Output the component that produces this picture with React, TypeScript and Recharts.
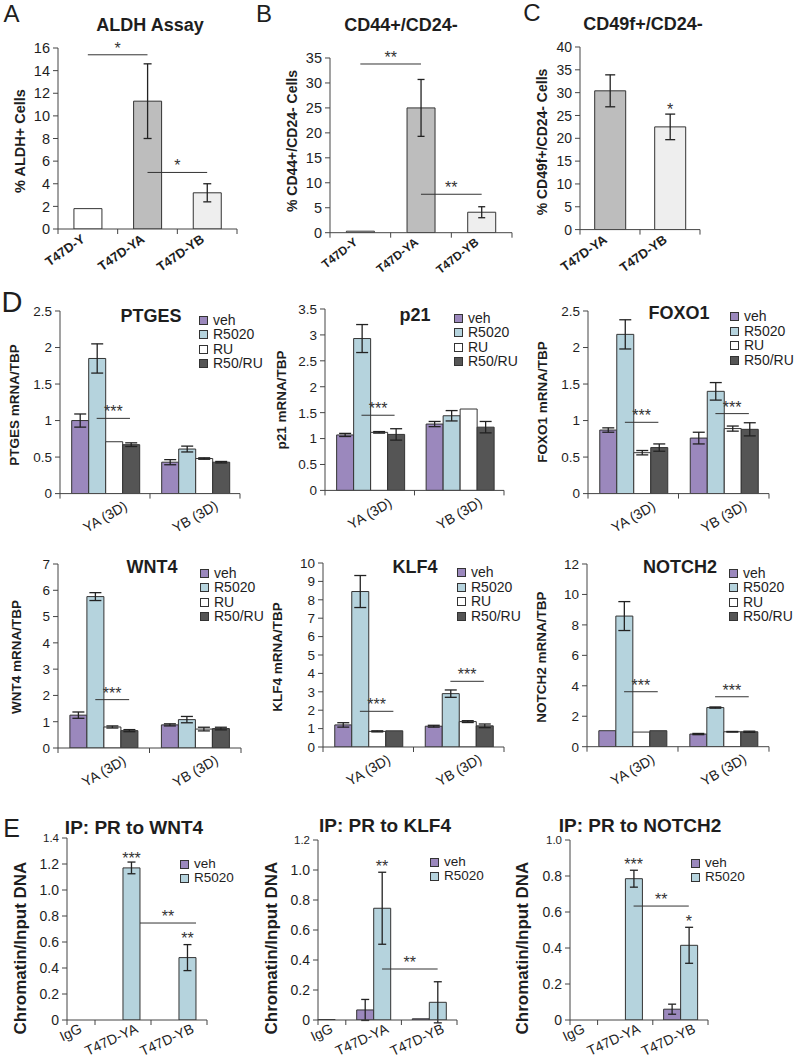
import React from "react";
import {
  BarChart,
  Bar,
  XAxis,
  YAxis,
  ErrorBar,
  Cell,
  ReferenceDot,
} from "recharts";

const FONT = '"Liberation Sans", Arial, Helvetica, sans-serif';
const INK = "#1e1e1e";
const AXIS = "#444444";
const EDGE = "#333333";

// ---- A-C: stem-cell markers by cell line
const lineCats = ["T47D-Y", "T47D-YA", "T47D-YB"];
const lineFills = ["#ffffff", "#bdbdbd", "#eeeeee"];
const aldhMean = [1.8, 11.3, 3.2];
const aldhErr = [null, 3.3, 0.8];
const cd44Mean = [0.3, 25, 4.1];
const cd44Err = [null, 5.7, 1.1];
const cd49Cats = ["T47D-YA", "T47D-YB"];
const cd49Fills = ["#bdbdbd", "#eeeeee"];
const cd49Mean = [30.4, 22.5];
const cd49Err = [3.5, 2.8];

// ---- D: mRNA / TBP, rows = YA (3D), YB (3D); cols = veh, R5020, RU, R50/RU
const groups = ["YA (3D)", "YB (3D)"];
const treatments = ["veh", "R5020", "RU", "R50/RU"];
const treatColors = ["#9b88bd", "#b5d3dd", "#ffffff", "#555555"];
const ptgesMean = [[1.0, 1.85, 0.71, 0.67], [0.43, 0.61, 0.48, 0.43]];
const ptgesErr = [[0.09, 0.2, null, 0.025], [0.035, 0.04, 0.01, 0.01]];
const p21Mean = [[1.07, 2.93, 1.12, 1.08], [1.28, 1.44, 1.57, 1.22]];
const p21Err = [[0.03, 0.27, 0.015, 0.11], [0.05, 0.1, null, 0.11]];
const foxo1Mean = [[0.87, 2.18, 0.56, 0.63], [0.76, 1.4, 0.89, 0.88]];
const foxo1Err = [[0.03, 0.2, 0.03, 0.05], [0.08, 0.12, 0.035, 0.09]];
const wnt4Mean = [[1.25, 5.76, 0.8, 0.66], [0.88, 1.08, 0.72, 0.74]];
const wnt4Err = [[0.12, 0.15, 0.04, 0.04], [0.04, 0.12, 0.07, 0.05]];
const klf4Mean = [[1.2, 8.45, 0.85, 0.88], [1.13, 2.9, 1.38, 1.15]];
const klf4Err = [[0.12, 0.87, 0.03, null], [0.05, 0.2, 0.05, 0.1]];
const notch2Mean = [[1.05, 8.58, 0.96, 1.05], [0.83, 2.57, 0.98, 0.98]];
const notch2Err = [[null, 0.95, null, null], [0.04, 0.04, 0.02, 0.04]];

// ---- E: ChIP, rows = IgG, T47D-YA, T47D-YB; cols = veh, R5020
const chipCats = ["IgG", "T47D-YA", "T47D-YB"];
const chipTreat = ["veh", "R5020"];
const chipColors = ["#9b88bd", "#b5d3dd"];
const wnt4ChipMean = [[0, 0], [0, 1.17], [0, 0.48]];
const wnt4ChipErr = [[null, null], [null, 0.045], [null, 0.1]];
const klf4ChipMean = [[0, 0.003], [0.067, 0.745], [0.008, 0.118]];
const klf4ChipErr = [[null, null], [0.07, 0.24], [null, 0.137]];
const notch2ChipMean = [[0, 0], [0, 0.785], [0.06, 0.415]];
const notch2ChipErr = [[null, null], [null, 0.047], [0.028, 0.1]];

const step = (max: number, s: number) => {
  const out: number[] = [];
  for (let i = 0; i <= Math.round(max / s); i++) out.push(+(i * s).toFixed(2));
  return out;
};

const oneDec = (v: number) => (v === 0 ? "0" : v.toFixed(1));

// annotation anchors are [category index, bar index within the category]
type Annot = {
  kind: "line" | "star";
  a: [number, number];
  b?: [number, number];
  y: number;
  text: string;
};

type XL = { fs: number; bold: boolean; angle: number; anchor: string; dx: number; dy: number };

const CatTick = ({ x, payload, index, axisY, bandW, plotLeft, xl }: any) => {
  const tx = x + xl.dx;
  const ty = axisY + xl.dy;
  return (
    <g>
      {index === 0 && (
        <line x1={plotLeft} x2={plotLeft} y1={axisY} y2={axisY + 5} stroke={AXIS} />
      )}
      <line x1={x + bandW / 2} x2={x + bandW / 2} y1={axisY} y2={axisY + 5} stroke={AXIS} />
      <text
        transform={`translate(${tx},${ty}) rotate(${xl.angle})`}
        textAnchor={xl.anchor}
        dominantBaseline={xl.anchor === "middle" ? "central" : "auto"}
        fontSize={xl.fs}
        fontWeight={xl.bold ? 700 : 400}
        fill={INK}
      >
        {payload.value}
      </text>
    </g>
  );
};

const YTick = ({ x, y, payload, fs, topFs, top, fmt }: any) => (
  <text x={x} y={y} dy="0.36em" textAnchor="end" fontSize={topFs && payload.value === top ? topFs : fs} fill={INK}>
    {fmt ? fmt(payload.value) : payload.value}
  </text>
);

const STAR_FS = 16;

// significance mark drawn around the point the library gives for (category, y)
const SigMark = ({ cx, cy, x1, x2, kind, text }: any) => {
  if (kind === "line") {
    return (
      <g>
        <line x1={cx + x1} x2={cx + x2} y1={cy} y2={cy} stroke="#333" strokeWidth={1} />
        <text x={cx + (x1 + x2) / 2} y={cy - 1} textAnchor="middle" fontSize={STAR_FS} fill="#333">
          {text}
        </text>
      </g>
    );
  }
  return (
    <text x={cx + x1} y={cy + STAR_FS * 0.58} textAnchor="middle" fontSize={STAR_FS} fill="#333">
      {text}
    </text>
  );
};

type PanelProps = {
  x0: number;
  x1: number;
  yTop: number;
  yBot: number;
  data: any[];
  nCats: number;
  series: { key: string; err: string; color: string }[];
  cellFills?: string[];
  yMax: number;
  yTicks: number[];
  fmt?: (v: number) => string;
  gap: number;
  xl: XL;
  half?: boolean;
  annots: Annot[];
  tickFs: number;
  topFs?: number;
  capW: number;
  xh?: number;
};

function Panel(p: PanelProps) {
  const YW = 46;
  const MT = 10;
  const MR = 6;
  const XH = p.xh ?? 60;
  const plotW = p.x1 - p.x0;
  const plotH = p.yBot - p.yTop;
  const bandW = plotW / (p.half ? p.nCats - 0.5 : p.nCats);
  const pad = p.half ? { left: -bandW / 2, right: 0 } : { left: 0, right: 0 };
  const n = p.series.length;
  // offset (px) of a bar centre from its category centre
  const off = (c: [number, number], base: number) =>
    (c[0] - base + p.gap + ((c[1] + 0.5) * (1 - 2 * p.gap)) / n - 0.5) * bandW;
  const axisY = MT + plotH;

  return (
    <div style={{ position: "absolute", left: p.x0 - YW, top: p.yTop - MT }}>
      <BarChart
        width={YW + plotW + MR}
        height={MT + plotH + XH}
        data={p.data}
        margin={{ top: MT, right: MR, left: 0, bottom: 0 }}
        barCategoryGap={`${p.gap * 100}%`}
        barGap={0}
      >
        <XAxis
          dataKey="cat"
          interval={0}
          height={XH}
          padding={pad}
          tickLine={false}
          axisLine={{ stroke: AXIS }}
          tick={(t: any) => (
            <CatTick {...t} axisY={axisY} bandW={bandW} plotLeft={YW} xl={p.xl} />
          )}
        />
        <YAxis
          width={YW}
          domain={[0, p.yMax]}
          ticks={p.yTicks}
          interval={0}
          allowDataOverflow
          tickSize={5}
          tickMargin={3}
          axisLine={{ stroke: AXIS }}
          tickLine={{ stroke: AXIS }}
          tick={(t: any) => (
            <YTick {...t} fs={p.tickFs} topFs={p.topFs} top={p.yMax} fmt={p.fmt} />
          )}
        />
        {p.series.map((s) => (
          <Bar
            key={s.key}
            dataKey={s.key}
            fill={s.color}
            stroke={EDGE}
            strokeWidth={1}
            isAnimationActive={false}
          >
            {p.cellFills && p.cellFills.map((f, i) => <Cell key={i} fill={f} />)}
            <ErrorBar
              dataKey={s.err}
              width={p.capW}
              stroke="#222"
              strokeWidth={1.3}
              direction="y"
              isAnimationActive={false}
            />
          </Bar>
        ))}
        {p.annots.map((a, i) => {
          const base = a.a[0];
          const x1 = off(a.a, base);
          const x2 = a.b ? off(a.b, base) : x1;
          return (
            <ReferenceDot
              key={`s${i}`}
              x={p.data[base].cat}
              y={a.y}
              r={0}
              ifOverflow="visible"
              shape={(d: any) => (
                <SigMark cx={d.cx} cy={d.cy} x1={x1} x2={x2} kind={a.kind} text={a.text} />
              )}
            />
          );
        })}
      </BarChart>
    </div>
  );
}

const Txt = ({ x, y, fs, bold, rot, children }: any) => (
  <div
    style={{
      position: "absolute",
      left: x,
      top: y,
      transform: `translate(-50%,-50%)${rot ? " rotate(-90deg)" : ""}`,
      fontSize: fs,
      fontWeight: bold ? 700 : 400,
      lineHeight: 1,
      whiteSpace: "nowrap",
      color: INK,
    }}
  >
    {children}
  </div>
);

const Key = ({ x, y, names, colors, rowH, fs }: any) => (
  <div style={{ position: "absolute", left: x, top: y - rowH / 2 }}>
    {names.map((nm: string, i: number) => (
      <div key={nm} style={{ display: "flex", alignItems: "center", height: rowH }}>
        <span
          style={{
            display: "inline-block",
            width: 9,
            height: 9,
            boxSizing: "border-box",
            background: colors[i],
            border: `1px solid ${EDGE}`,
            marginRight: 5,
          }}
        />
        <span style={{ fontSize: fs ?? 14, lineHeight: 0.9, color: INK }}>{nm}</span>
      </div>
    ))}
  </div>
);

const simpleRows = (cats: string[], mean: number[], err: (number | null)[]) =>
  cats.map((c, i) => ({ cat: c, v: mean[i], e: err[i] ?? undefined }));

const groupRows = (cats: string[], mean: number[][], err: (number | null)[][]) =>
  cats.map((c, gi) => {
    const r: any = { cat: c };
    mean[gi].forEach((v, ti) => {
      r[`s${ti}`] = v;
      r[`e${ti}`] = err[gi][ti] ?? undefined;
    });
    return r;
  });

const treatSeries = treatColors.map((c, i) => ({ key: `s${i}`, err: `e${i}`, color: c }));
const chipSeries = chipColors.map((c, i) => ({ key: `s${i}`, err: `e${i}`, color: c }));
const oneSeries = [{ key: "v", err: "e", color: "#ffffff" }];

const xlTop: XL = { fs: 13, bold: true, angle: -35, anchor: "end", dx: -2, dy: 12 };
const xlB: XL = { fs: 12, bold: true, angle: -38, anchor: "end", dx: -2, dy: 11 };
const xlD: XL = { fs: 14, bold: false, angle: -30, anchor: "middle", dx: 0, dy: 23 };
const xlE: XL = { fs: 14, bold: false, angle: -25, anchor: "end", dx: 16, dy: 12 };

const dCommon = {
  nCats: 2,
  series: treatSeries,
  gap: 0.13,
  xl: xlD,
  tickFs: 13.5,
  capW: 6,
};

const eCommon = {
  nCats: 3,
  series: chipSeries,
  gap: 0.196,
  xl: xlE,
  half: true,
  tickFs: 14,
  topFs: 11.5,
  capW: 4,
  xh: 42,
  fmt: oneDec,
};

export default function App() {
  return (
    <div
      style={{
        position: "absolute",
        left: 0,
        top: 0,
        width: 795,
        height: 1062,
        overflow: "hidden",
        background: "#ffffff",
        fontFamily: FONT,
        color: INK,
      }}
    >
      {/* A */}
      <Panel
        x0={58} x1={237} yTop={48} yBot={229}
        data={simpleRows(lineCats, aldhMean, aldhErr)}
        nCats={3} series={oneSeries} cellFills={lineFills}
        yMax={16} yTicks={step(16, 2)} gap={0.267} xl={xlTop}
        tickFs={14.5} capW={4}
        annots={[
          { kind: "line", a: [0, 0], b: [1, 0], y: 15.4, text: "*" },
          { kind: "line", a: [1, 0], b: [2, 0], y: 5.0, text: "*" },
        ]}
      />
      {/* B */}
      <Panel
        x0={330} x1={512} yTop={58} yBot={232.7}
        data={simpleRows(lineCats, cd44Mean, cd44Err)}
        nCats={3} series={oneSeries} cellFills={lineFills}
        yMax={35} yTicks={step(35, 5)} gap={0.27} xl={xlB}
        tickFs={14.5} capW={3.5}
        annots={[
          { kind: "line", a: [0, 0], b: [1, 0], y: 33.8, text: "**" },
          { kind: "line", a: [1, 0], b: [2, 0], y: 7.7, text: "**" },
        ]}
      />
      {/* C */}
      <Panel
        x0={580} x1={700} yTop={46.7} yBot={229.3}
        data={simpleRows(cd49Cats, cd49Mean, cd49Err)}
        nCats={2} series={oneSeries} cellFills={cd49Fills}
        yMax={40} yTicks={step(40, 5)} gap={0.245} xl={xlTop}
        tickFs={14} capW={5}
        annots={[{ kind: "star", a: [1, 0], y: 27.2, text: "*" }]}
      />

      {/* D row 1 */}
      <Panel {...dCommon} x0={60} x1={240} yTop={310.7} yBot={493.3}
        data={groupRows(groups, ptgesMean, ptgesErr)}
        yMax={2.5} yTicks={step(2.5, 0.5)}
        annots={[{ kind: "line", a: [0, 1], b: [0, 3], y: 1.03, text: "***" }]}
      />
      <Panel {...dCommon} x0={325} x1={504} yTop={309.3} yBot={490.7}
        data={groupRows(groups, p21Mean, p21Err)}
        yMax={3.5} yTicks={step(3.5, 0.5)}
        annots={[{ kind: "line", a: [0, 1], b: [0, 3], y: 1.45, text: "***" }]}
      />
      <Panel {...dCommon} x0={588} x1={769} yTop={310.7} yBot={493.3}
        data={groupRows(groups, foxo1Mean, foxo1Err)}
        yMax={2.5} yTicks={step(2.5, 0.5)}
        annots={[
          { kind: "line", a: [0, 1], b: [0, 3], y: 0.976, text: "***" },
          { kind: "line", a: [1, 1], b: [1, 3], y: 1.095, text: "***" },
        ]}
      />

      {/* D row 2 */}
      <Panel {...dCommon} x0={58} x1={241} yTop={564} yBot={748}
        data={groupRows(groups, wnt4Mean, wnt4Err)}
        yMax={7} yTicks={step(7, 1)}
        annots={[{ kind: "line", a: [0, 1], b: [0, 3], y: 1.84, text: "***" }]}
      />
      <Panel {...dCommon} x0={323} x1={504} yTop={562.7} yBot={746.7}
        data={groupRows(groups, klf4Mean, klf4Err)}
        yMax={10} yTicks={step(10, 1)}
        annots={[
          { kind: "line", a: [0, 1], b: [0, 3], y: 1.94, text: "***" },
          { kind: "line", a: [1, 1], b: [1, 3], y: 3.57, text: "***" },
        ]}
      />
      <Panel {...dCommon} x0={587} x1={769} yTop={564} yBot={746.7}
        data={groupRows(groups, notch2Mean, notch2Err)}
        yMax={12} yTicks={step(12, 2)}
        annots={[
          { kind: "line", a: [0, 1], b: [0, 3], y: 3.61, text: "***" },
          { kind: "line", a: [1, 1], b: [1, 3], y: 3.28, text: "***" },
        ]}
      />

      {/* E */}
      <Panel {...eCommon} x0={67} x1={207} yTop={838} yBot={1020}
        data={groupRows(chipCats, wnt4ChipMean, wnt4ChipErr)}
        yMax={1.4} yTicks={step(1.4, 0.2)}
        annots={[
          { kind: "star", a: [1, 1], y: 1.27, text: "***" },
          { kind: "star", a: [2, 1], y: 0.654, text: "**" },
          { kind: "line", a: [1, 1.5], b: [2, 1.5], y: 0.746, text: "**" },
        ]}
      />
      <Panel {...eCommon} x0={317.7} x1={456.7} yTop={840} yBot={1020}
        data={groupRows(chipCats, klf4ChipMean, klf4ChipErr)}
        yMax={1.2} yTicks={step(1.2, 0.2)}
        annots={[
          { kind: "star", a: [1, 1], y: 1.05, text: "**" },
          { kind: "line", a: [1, 1], b: [2, 1], y: 0.34, text: "**" },
        ]}
      />
      <Panel {...eCommon} x0={570} x1={708} yTop={840} yBot={1020}
        data={groupRows(chipCats, notch2ChipMean, notch2ChipErr)}
        yMax={1.0} yTicks={step(1.0, 0.2)}
        annots={[
          { kind: "star", a: [1, 1], y: 0.885, text: "***" },
          { kind: "line", a: [1, 1], b: [2, 1], y: 0.633, text: "**" },
          { kind: "star", a: [2, 1], y: 0.57, text: "*" },
        ]}
      />

      {/* panel letters */}
      <Txt x={11.5} y={13.5} fs={24}>A</Txt>
      <Txt x={264} y={13.5} fs={24}>B</Txt>
      <Txt x={532} y={13} fs={24}>C</Txt>
      <Txt x={12} y={302} fs={29}>D</Txt>
      <Txt x={11.5} y={827.5} fs={25}>E</Txt>

      {/* titles */}
      <Txt x={150} y={25} fs={18} bold>ALDH Assay</Txt>
      <Txt x={401} y={25} fs={18} bold>CD44+/CD24-</Txt>
      <Txt x={643} y={23.5} fs={18} bold>CD49f+/CD24-</Txt>
      <Txt x={151} y={315.5} fs={18} bold>PTGES</Txt>
      <Txt x={415} y={315} fs={18} bold>p21</Txt>
      <Txt x={679} y={313} fs={18} bold>FOXO1</Txt>
      <Txt x={152} y={567} fs={18} bold>WNT4</Txt>
      <Txt x={415} y={567} fs={18} bold>KLF4</Txt>
      <Txt x={680} y={567} fs={18} bold>NOTCH2</Txt>
      <Txt x={134} y={827} fs={19} bold>IP: PR to WNT4</Txt>
      <Txt x={385} y={825} fs={19} bold>IP: PR to KLF4</Txt>
      <Txt x={640} y={825} fs={19} bold>IP: PR to NOTCH2</Txt>

      {/* y-axis titles */}
      <Txt x={20} y={141} fs={14.5} bold rot>% ALDH+ Cells</Txt>
      <Txt x={292} y={141} fs={14} bold rot>% CD44+/CD24- Cells</Txt>
      <Txt x={542} y={142} fs={14} bold rot>% CD49f+/CD24- Cells</Txt>
      <Txt x={15} y={405} fs={13.5} bold rot>PTGES mRNA/TBP</Txt>
      <Txt x={282} y={400} fs={13.5} bold rot>p21 mRNA/TBP</Txt>
      <Txt x={543} y={402} fs={13.5} bold rot>FOXO1 mRNA/TBP</Txt>
      <Txt x={17} y={657} fs={13.5} bold rot>WNT4 mRNA/TBP</Txt>
      <Txt x={278} y={657} fs={13.5} bold rot>KLF4 mRNA/TBP</Txt>
      <Txt x={542} y={657} fs={13.5} bold rot>NOTCH2 mRNA/TBP</Txt>
      <Txt x={20} y={948} fs={17} bold rot>Chromatin/Input DNA</Txt>
      <Txt x={271} y={948} fs={17} bold rot>Chromatin/Input DNA</Txt>
      <Txt x={522} y={948} fs={17} bold rot>Chromatin/Input DNA</Txt>

      {/* legends */}
      <Key x={199} y={320} names={treatments} colors={treatColors} rowH={14.5} />
      <Key x={454} y={318} names={treatments} colors={treatColors} rowH={14.5} />
      <Key x={730} y={316.5} names={treatments} colors={treatColors} rowH={14.5} />
      <Key x={200} y={573} names={treatments} colors={treatColors} rowH={14.5} />
      <Key x={457} y={572.5} names={treatments} colors={treatColors} rowH={14.5} />
      <Key x={729} y={573} names={treatments} colors={treatColors} rowH={14.5} />
      <Key x={180} y={864.5} names={chipTreat} colors={chipColors} rowH={14} fs={13.5} />
      <Key x={430} y={862.5} names={chipTreat} colors={chipColors} rowH={14} fs={13.5} />
      <Key x={691} y={863.5} names={chipTreat} colors={chipColors} rowH={14} fs={13.5} />
    </div>
  );
}
